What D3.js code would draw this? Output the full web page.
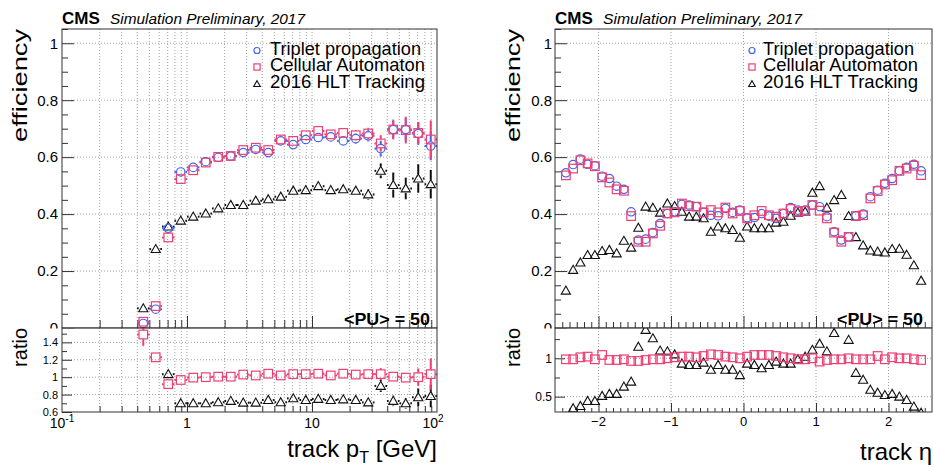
<!DOCTYPE html>
<html><head><meta charset="utf-8">
<script src="https://cdn.jsdelivr.net/npm/d3@7"></script>
<style>
body{margin:0;background:#fff}
svg{display:block}
text{font-family:"Liberation Sans",Arial,Helvetica,sans-serif;fill:#000}
</style>
</head><body>
<svg id="c" width="934" height="468"></svg>
<script>
// ---------------- DATA: left (track pT) ----------------
const ptCenters = [0.447,0.562,0.708,0.891,1.122,1.413,1.778,2.239,2.818,3.548,4.467,5.623,7.079,8.913,11.22,14.13,17.78,22.39,28.18,35.48,44.67,56.23,70.79,89.13];
const ptEffTriplet = [0.016,0.066,0.350,0.548,0.564,0.584,0.599,0.604,0.616,0.627,0.616,0.657,0.644,0.662,0.669,0.671,0.657,0.665,0.675,0.630,0.697,0.697,0.683,0.639];
const ptEffCA      = [0.022,0.077,0.318,0.523,0.554,0.581,0.601,0.604,0.625,0.633,0.625,0.662,0.657,0.677,0.692,0.680,0.685,0.677,0.683,0.648,0.697,0.695,0.685,0.662];
const ptEff2016    = [0.069,0.277,0.356,0.377,0.391,0.402,0.420,0.432,0.432,0.447,0.452,0.461,0.482,0.484,0.498,0.484,0.487,0.482,0.469,0.552,0.502,0.490,0.525,0.505];
const ptErrTriplet = [0.004,0.006,0.005,0.004,0.004,0.004,0.004,0.005,0.005,0.006,0.006,0.007,0.008,0.009,0.010,0.012,0.016,0.018,0.020,0.028,0.030,0.040,0.040,0.050];
const ptErrCA      = [0.006,0.008,0.005,0.004,0.004,0.004,0.004,0.005,0.005,0.006,0.006,0.007,0.008,0.009,0.010,0.012,0.016,0.018,0.020,0.029,0.035,0.047,0.038,0.067];
const ptErr2016    = [0.005,0.006,0.005,0.004,0.004,0.004,0.004,0.005,0.005,0.006,0.006,0.007,0.008,0.009,0.010,0.012,0.014,0.016,0.018,0.026,0.044,0.038,0.050,0.050];
const ptRatioCA    = [1.49,1.228,0.92,0.968,0.995,1.0,1.006,1.006,1.03,1.02,1.04,1.02,1.035,1.035,1.04,1.02,1.04,1.03,1.035,1.035,1.006,0.995,1.0,1.035];
const ptRatioErrCA = [0.13,0.03,0.02,0.01,0.01,0.01,0.01,0.01,0.01,0.01,0.01,0.01,0.01,0.01,0.01,0.02,0.02,0.03,0.03,0.07,0.045,0.05,0.10,0.18];
const ptRatio2016  = [4.3,4.2,1.035,0.70,0.70,0.70,0.712,0.727,0.707,0.707,0.738,0.712,0.757,0.738,0.75,0.738,0.745,0.738,0.71,0.90,0.727,0.70,0.769,0.784];
const ptRatioErr2016 = [0,0,0.02,0.01,0.01,0.01,0.01,0.01,0.01,0.01,0.01,0.01,0.01,0.01,0.01,0.02,0.02,0.03,0.03,0.07,0.06,0.06,0.10,0.13];

// ---------------- DATA: right (track eta) ----------------
const etaCenters = [-2.45,-2.35,-2.25,-2.15,-2.05,-1.95,-1.85,-1.75,-1.65,-1.55,-1.45,-1.35,-1.25,-1.15,-1.05,-0.95,-0.85,-0.75,-0.65,-0.55,-0.45,-0.35,-0.25,-0.15,-0.05,0.05,0.15,0.25,0.35,0.45,0.55,0.65,0.75,0.85,0.95,1.05,1.15,1.25,1.35,1.45,1.55,1.65,1.75,1.85,1.95,2.05,2.15,2.25,2.35,2.45];
const etaEffTriplet = [0.545,0.574,0.593,0.575,0.570,0.533,0.525,0.498,0.487,0.408,0.309,0.312,0.335,0.367,0.402,0.408,0.434,0.432,0.426,0.406,0.396,0.394,0.420,0.406,0.414,0.387,0.388,0.402,0.393,0.385,0.402,0.423,0.414,0.414,0.432,0.426,0.391,0.338,0.309,0.320,0.394,0.400,0.461,0.484,0.508,0.525,0.552,0.564,0.575,0.552];
const etaEffCA      = [0.536,0.560,0.589,0.578,0.568,0.529,0.511,0.487,0.482,0.393,0.303,0.303,0.332,0.359,0.402,0.406,0.437,0.428,0.426,0.406,0.414,0.406,0.423,0.402,0.411,0.385,0.396,0.411,0.396,0.391,0.402,0.418,0.408,0.411,0.432,0.412,0.385,0.335,0.303,0.320,0.393,0.396,0.455,0.481,0.504,0.519,0.552,0.560,0.570,0.537];
const etaEff2016    = [0.131,0.204,0.230,0.256,0.256,0.270,0.274,0.262,0.306,0.282,0.352,0.426,0.422,0.405,0.437,0.428,0.408,0.391,0.391,0.385,0.338,0.356,0.350,0.344,0.317,0.356,0.350,0.350,0.350,0.370,0.373,0.394,0.405,0.408,0.475,0.498,0.422,0.449,0.467,0.393,0.319,0.290,0.272,0.268,0.265,0.277,0.278,0.257,0.220,0.166];
const etaRatioCA    = [0.987,0.987,1.013,1.022,0.987,1.043,0.978,0.978,0.987,0.965,0.965,0.978,0.987,0.987,1.0,1.013,1.022,1.022,1.013,1.03,1.052,1.043,1.022,1.013,1.0,1.022,1.043,1.043,1.043,1.03,1.013,1.0,0.987,0.987,1.0,0.957,0.978,0.987,0.987,1.0,0.987,0.987,0.987,1.03,0.987,1.013,1.0,1.0,0.987,0.978];
const etaRatio2016  = [0.24,0.348,0.378,0.443,0.443,0.509,0.535,0.535,0.63,0.695,1.15,1.37,1.26,1.10,1.09,1.05,0.93,0.913,0.913,0.943,0.85,0.913,0.85,0.85,0.78,0.93,0.913,0.87,0.913,0.956,0.93,0.93,0.987,1.02,1.11,1.19,1.09,1.33,1.51,1.24,0.81,0.72,0.59,0.55,0.52,0.535,0.50,0.456,0.37,0.29];

// ---------------- ticks / labels ----------------
const effMajor = [0,0.2,0.4,0.6,0.8,1];
const effLabels = ["0","0.2","0.4","0.6","0.8","1"];
const ptMajor = [0.1,1,10,100];
const ptLabels = [["10","-1"],["1",""],["10",""],["10","2"]];
const ptRatioMajor = [0.6,0.8,1,1.2,1.4];
const ptRatioLabels = ["0.6","0.8","1","1.2","1.4"];
const etaMajor = [-2,-1,0,1,2];
const etaLabels = ["\u22122","\u22121","0","1","2"];
const etaRatioMajor = [0.5,1];
const etaRatioLabels = ["0.5","1"];
const legendNames = ["Triplet propagation","Cellular Automaton","2016 HLT Tracking"];

// ---------------- styles ----------------
const BLUE = "#4466ee", RED = "#ee3f73", BLK = "#111";
const svg = d3.select("#c");

const yTop = 29, yMid = 328, yBot = 412;
const xPt = d3.scaleLog().domain([0.1,100]).range([62,437]);
const yEffL = d3.scaleLinear().domain([0,1.05]).range([yMid,yTop]);
const yRatL = d3.scaleLinear().domain([0.6,1.565]).range([yBot,yMid]);
const xEta = d3.scaleLinear().domain([-2.6,2.6]).range([555,932]);
const yEffR = d3.scaleLinear().domain([0,1.05]).range([yMid,yTop]);
const yRatR = d3.scaleLinear().domain([0.3,1.395]).range([yBot,yMid]);

const defs = svg.append("defs");
function clip(id,x0,y0,x1,y1){
  defs.append("clipPath").attr("id",id).append("rect")
    .attr("x",x0).attr("y",y0).attr("width",x1-x0).attr("height",y1-y0);
  return "url(#"+id+")";
}

function gridV(g,xs,vals,y0,y1){
  g.selectAll(null).data(vals).enter().append("line")
    .attr("x1",d=>xs(d)).attr("x2",d=>xs(d)).attr("y1",y0).attr("y2",y1)
    .attr("stroke","#8a8a8a").attr("stroke-width",0.8).attr("stroke-dasharray","1,2");
}
function gridH(g,ys,vals,x0,x1){
  g.selectAll(null).data(vals).enter().append("line")
    .attr("y1",d=>ys(d)).attr("y2",d=>ys(d)).attr("x1",x0).attr("x2",x1)
    .attr("stroke","#8a8a8a").attr("stroke-width",0.8).attr("stroke-dasharray","1,2");
}
function ticks(g,axisFn,scale,vals,size,tx,ty){
  const a = g.append("g").attr("transform",`translate(${tx},${ty})`)
    .call(axisFn(scale).tickValues(vals).tickSize(size).tickFormat(""));
  a.select(".domain").remove();
  a.selectAll("line").attr("stroke","#333").attr("stroke-width",1);
}

function marker(g,shape,cx,cy,color,s){
  s = s||1;
  if(shape==="circle"){
    g.append("circle").attr("cx",cx).attr("cy",cy).attr("r",4.2*s)
      .attr("fill","none").attr("stroke",color).attr("stroke-width",1.2);
  } else if(shape==="square"){
    const h=4.3*s;
    g.append("rect").attr("x",cx-h).attr("y",cy-h).attr("width",2*h).attr("height",2*h)
      .attr("fill","none").attr("stroke",color).attr("stroke-width",1.2);
  } else {
    const h=4.6*s;
    g.append("path").attr("d",`M${cx},${cy-h}L${cx+h},${cy+h*0.75}L${cx-h},${cy+h*0.75}Z`)
      .attr("fill","none").attr("stroke",color).attr("stroke-width",1.1);
  }
}

function series(g,xsVals,ys,errs,xs,ysc,lo,hi,shape,color,lw){
  const gap=4.6;
  xsVals.forEach((xv,i)=>{
    const v = ys[i]; if(v==null) return;
    const cx = xs(xv), cy = ysc(v);
    const a = xs(lo(xv)), b = xs(hi(xv));
    if(cx-gap>a) g.append("line").attr("x1",a).attr("x2",cx-gap).attr("y1",cy).attr("y2",cy).attr("stroke",color).attr("stroke-width",lw);
    if(b>cx+gap) g.append("line").attr("x1",cx+gap).attr("x2",b).attr("y1",cy).attr("y2",cy).attr("stroke",color).attr("stroke-width",lw);
    const e = errs? errs[i]:0;
    if(e){
      const t = ysc(v+e), bt = ysc(v-e);
      if(t<cy-gap) g.append("line").attr("x1",cx).attr("x2",cx).attr("y1",t).attr("y2",cy-gap).attr("stroke",color).attr("stroke-width",lw);
      if(bt>cy+gap) g.append("line").attr("x1",cx).attr("x2",cx).attr("y1",cy+gap).attr("y2",bt).attr("stroke",color).attr("stroke-width",lw);
    }
    marker(g,shape,cx,cy,color);
  });
}

function frame(g,x0,y0,x1,y1){
  g.append("rect").attr("x",x0).attr("y",y0).attr("width",x1-x0).attr("height",y1-y0)
    .attr("fill","none").attr("stroke","#333").attr("stroke-width",1);
}

function yLabels(g,ys,vals,labels,xEnd,size){
  const a = g.append("g").attr("transform",`translate(${xEnd+4},0)`)
    .call(d3.axisLeft(ys).tickValues(vals).tickSize(0).tickPadding(4).tickFormat((d,i)=>labels[i]));
  a.select(".domain").remove();
  a.selectAll("text").style("font-family",'"Liberation Sans",Arial,sans-serif').style("font-size",size+"px").attr("fill","#000");
}

function header(x,simEnd){
  svg.append("text").attr("x",x).attr("y",24).attr("font-weight","bold").attr("font-size",17).text("CMS");
  svg.append("text").attr("x",x+48).attr("y",24).attr("font-style","italic").attr("font-size",15)
    .attr("textLength",simEnd-(x+48)).attr("lengthAdjust","spacingAndGlyphs").text("Simulation Preliminary, 2017");
}

function legend(mx,tx,tEnd){
  const shapes=["circle","square","triangle"], cols=[BLUE,RED,BLK];
  const base=[54.5,71,87.5], mcy=[50.5,67,84];
  legendNames.forEach((n,i)=>{
    marker(svg,shapes[i],mx,mcy[i],cols[i],0.72);
    svg.append("text").attr("x",tx).attr("y",base[i]).attr("font-size",18.5)
      .attr("textLength",(i===0?tEnd-4:tEnd)-tx).attr("lengthAdjust","spacingAndGlyphs").text(n);
  });
}

function pu(xEnd){
  svg.append("text").attr("x",xEnd-86).attr("y",325).attr("font-size",17).attr("font-weight","bold")
    .attr("textLength",86).attr("lengthAdjust","spacingAndGlyphs").text("<PU> = 50");
}

// ================= LEFT PANEL =================
(function(){
  const x0=62,x1=437;
  const top = svg.append("g");
  const ptMinor = [0.2,0.3,0.4,0.5,0.6,0.7,0.8,0.9,2,3,4,5,6,7,8,9,20,30,40,50,60,70,80,90];
  gridV(top,xPt,ptMinor.concat([1,10]),yTop,yMid);
  gridH(top,yEffL,[0.2,0.4,0.6,0.8,1],x0,x1);
  const effMinor = d3.range(0,1.051,0.05).filter(v=>Math.abs(v*5-Math.round(v*5))>1e-6);
  ticks(top,d3.axisRight,yEffL,effMajor,12,x0,0);
  ticks(top,d3.axisRight,yEffL,effMinor,6,x0,0);
  ticks(top,d3.axisTop,xPt,[1,10],12,0,yMid);
  ticks(top,d3.axisTop,xPt,ptMinor,8,0,yMid);
  const pts = top.append("g").attr("clip-path",clip("cL1",x0,yTop,x1,yMid));
  const lo = p=>p/Math.pow(10,0.05), hi = p=>p*Math.pow(10,0.05);
  series(pts,ptCenters,ptEff2016,ptErr2016,xPt,yEffL,lo,hi,"triangle",BLK,2);
  series(pts,ptCenters,ptEffTriplet,ptErrTriplet,xPt,yEffL,lo,hi,"circle",BLUE,2);
  series(pts,ptCenters,ptEffCA,ptErrCA,xPt,yEffL,lo,hi,"square",RED,2);
  frame(top,x0,yTop,x1,yMid);
  yLabels(top,yEffL,effMajor,effLabels,58,15);
  pu(430);
  // ratio pad overlays the bottom of the top pad
  const bot = svg.append("g");
  bot.append("rect").attr("x",0).attr("y",yMid+0.5).attr("width",465).attr("height",140).attr("fill","#fff");
  gridV(bot,xPt,ptMinor.concat([1,10]),yMid,yBot);
  gridH(bot,yRatL,[0.8,1,1.2,1.4],x0,x1);
  ticks(bot,d3.axisRight,yRatL,ptRatioMajor,10,x0,0);
  ticks(bot,d3.axisRight,yRatL,[0.7,0.9,1.1,1.3,1.5],5,x0,0);
  ticks(bot,d3.axisTop,xPt,[1,10],10,0,yBot);
  ticks(bot,d3.axisTop,xPt,ptMinor,6,0,yBot);
  const rp = bot.append("g").attr("clip-path",clip("cL2",x0,yMid,x1,yBot));
  series(rp,ptCenters,ptRatio2016,ptRatioErr2016,xPt,yRatL,lo,hi,"triangle",BLK,2);
  series(rp,ptCenters,ptRatioCA,ptRatioErrCA,xPt,yRatL,lo,hi,"square",RED,2);
  frame(bot,x0,yMid,x1,yBot);
  yLabels(bot,yRatL,ptRatioMajor,ptRatioLabels,58,11);
  // x labels with exponents
  ptMajor.forEach((v,i)=>{
    const [b,e]=ptLabels[i];
    const t = bot.append("text").attr("y",428).attr("font-size",14).attr("text-anchor","middle");
    t.append("tspan").text(b);
    if(e){ t.append("tspan").attr("dy",-6).attr("font-size",10).text(e); }
    let cx = xPt(v); if(i===3) cx -= 4;
    t.attr("x",cx);
  });
  // titles
  const xt = svg.append("text").attr("x",437).attr("y",457).attr("text-anchor","end").attr("font-size",24);
  xt.append("tspan").text("track p");
  xt.append("tspan").attr("dy",6).attr("font-size",16).text("T");
  xt.append("tspan").attr("dy",-6).text(" [GeV]");
  svg.append("text").attr("transform","translate(27,29) rotate(-90)").attr("text-anchor","end")
    .attr("font-size",20).attr("textLength",113).attr("lengthAdjust","spacingAndGlyphs").text("efficiency");
  svg.append("text").attr("transform","translate(27,328) rotate(-90)").attr("text-anchor","end")
    .attr("font-size",20).text("ratio");
  header(62,305);
  legend(257,270,425);
})();

// ================= RIGHT PANEL =================
(function(){
  const x0=555,x1=932;
  const top = svg.append("g");
  gridV(top,xEta,etaMajor,yTop,yMid);
  gridH(top,yEffR,[0.2,0.4,0.6,0.8,1],x0,x1);
  const effMinor = d3.range(0,1.051,0.05).filter(v=>Math.abs(v*5-Math.round(v*5))>1e-6);
  const etaMinor = d3.range(-2.5,2.55,0.1).map(v=>Math.round(v*10)/10).filter(v=>Math.abs(v-Math.round(v))>1e-6);
  ticks(top,d3.axisRight,yEffR,effMajor,12,x0,0);
  ticks(top,d3.axisRight,yEffR,effMinor,6,x0,0);
  ticks(top,d3.axisTop,xEta,etaMajor,12,0,yMid);
  ticks(top,d3.axisTop,xEta,etaMinor,6,0,yMid);
  const pts = top.append("g").attr("clip-path",clip("cR1",x0,yTop,x1,yMid));
  const lo = e=>e-0.05, hi = e=>e+0.05;
  series(pts,etaCenters,etaEff2016,null,xEta,yEffR,lo,hi,"triangle",BLK,1.5);
  series(pts,etaCenters,etaEffTriplet,null,xEta,yEffR,lo,hi,"circle",BLUE,1.5);
  series(pts,etaCenters,etaEffCA,null,xEta,yEffR,lo,hi,"square",RED,1.5);
  frame(top,x0,yTop,x1,yMid);
  yLabels(top,yEffR,effMajor,effLabels,552,15);
  pu(923);
  const bot = svg.append("g");
  bot.append("rect").attr("x",466).attr("y",yMid+0.5).attr("width",468).attr("height",140).attr("fill","#fff");
  gridV(bot,xEta,etaMajor,yMid,yBot);
  gridH(bot,yRatR,[0.5,1],x0,x1);
  ticks(bot,d3.axisRight,yRatR,etaRatioMajor,10,x0,0);
  ticks(bot,d3.axisRight,yRatR,[0.75,1.25],5,x0,0);
  ticks(bot,d3.axisTop,xEta,etaMajor,9,0,yBot);
  ticks(bot,d3.axisTop,xEta,etaMinor,4,0,yBot);
  const rp = bot.append("g").attr("clip-path",clip("cR2",x0,yMid,x1,yBot));
  series(rp,etaCenters,etaRatio2016,null,xEta,yRatR,lo,hi,"triangle",BLK,1.5);
  series(rp,etaCenters,etaRatioCA,null,xEta,yRatR,lo,hi,"square",RED,1.5);
  frame(bot,x0,yMid,x1,yBot);
  yLabels(bot,yRatR,etaRatioMajor,etaRatioLabels,552,12);
  etaMajor.forEach((v,i)=>{
    bot.append("text").attr("x",xEta(v)).attr("y",426).attr("font-size",13).attr("text-anchor","middle").text(etaLabels[i]);
  });
  svg.append("text").attr("x",932).attr("y",460).attr("text-anchor","end").attr("font-size",24).text("track \u03b7");
  svg.append("text").attr("transform","translate(520,29) rotate(-90)").attr("text-anchor","end")
    .attr("font-size",20).attr("textLength",113).attr("lengthAdjust","spacingAndGlyphs").text("efficiency");
  svg.append("text").attr("transform","translate(520,328) rotate(-90)").attr("text-anchor","end")
    .attr("font-size",20).text("ratio");
  header(555,802);
  legend(752,763,918);
})();
</script>
</body></html>
